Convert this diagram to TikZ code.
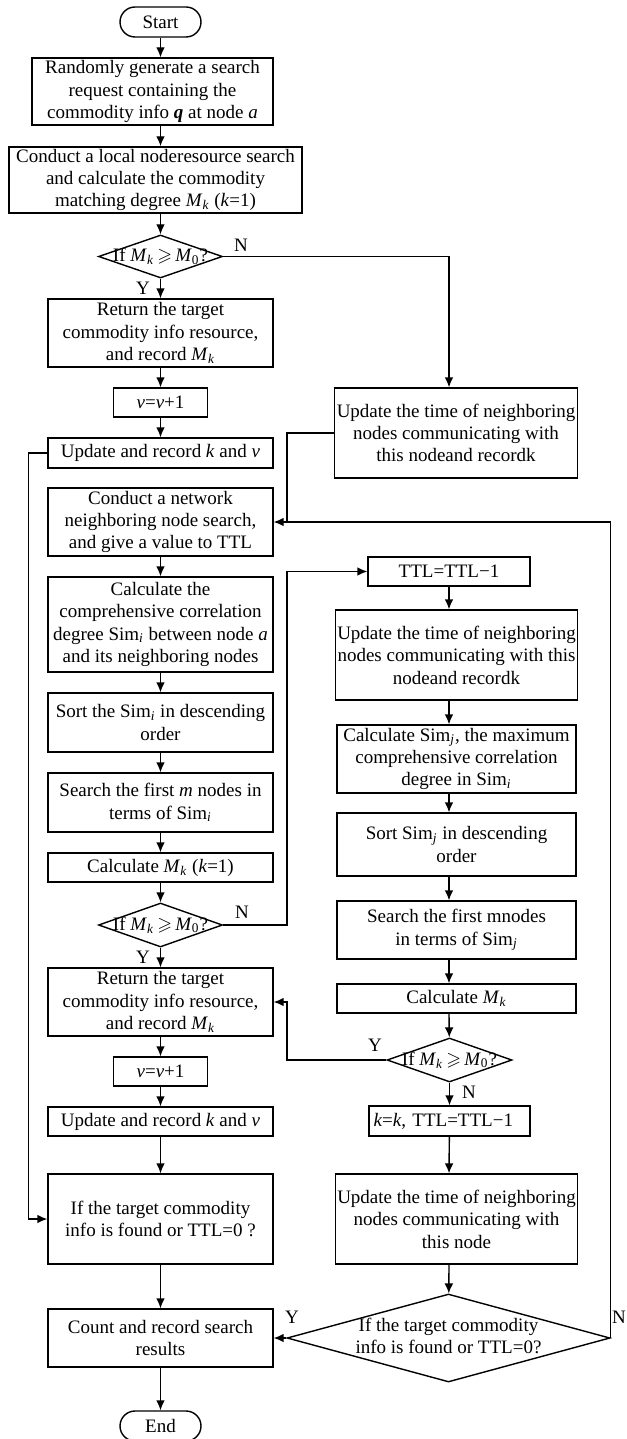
\documentclass[tikz,border=0pt]{standalone}
\usepackage{amssymb}
\usepackage{fontspec}
\setmainfont{Liberation Serif}
\usetikzlibrary{shapes.geometric,arrows.meta}

\newcommand{\Mk}{\textit{M}\textsubscript{\textit{k}}}
\newcommand{\Mz}{\textit{M}\textsubscript{0}}
\newcommand{\Simi}{Sim\textsubscript{\textit{i}}}
\newcommand{\Simj}{Sim\textsubscript{\textit{j}}}
\newcommand{\ifmk}{If \Mk\,$\geqslant$\,\Mz?}

\begin{document}
\begin{tikzpicture}[x=0.5pt, y=-0.5pt, line width=0.7pt, >={Latex[length=5pt,width=4.4pt]},
    font=\fontsize{9.5}{11.2}\selectfont,
    blk/.style={draw, align=center, inner sep=1pt, minimum height=#1},
    lft/.style={blk=#1, minimum width=112.5pt},
    rgt/.style={blk=#1, minimum width=119.5pt},
    trm/.style={draw, rounded corners=7.5pt, minimum width=40.5pt, minimum height=15pt, inner sep=1pt},
    dec/.style={draw, diamond, inner sep=0pt},
    yn/.style={inner sep=0pt}]
  \useasboundingbox (0,0) rectangle (626,1439);
  \coordinate (rc) at (449,0);
  \coordinate (mx) at (287,0);

  % main column
  \node[trm] (st) at (160.5,22) {Start};
  \node[blk=33.5pt, minimum width=120.5pt] (gen) at (152.5,91.5) {Randomly generate a search\\request containing the\\commodity info \textbf{\textit{q}} at node \textit{a}};
  \node[blk=33pt, minimum width=146.5pt] (loc) at (155.5,180) {Conduct a local noderesource search\\and calculate the commodity\\matching degree \Mk{} (\textit{k}=1)};
  \node[dec, minimum width=62pt, minimum height=21.5pt] (d1) at (160.5,256.5) {\makebox[0pt]{\ifmk}};
  \node[lft=34pt] (r1) at (160.5,333) {Return the target\\commodity info resource,\\and record \Mk};
  \node[blk=14.5pt, minimum width=47pt] (v1) at (160.5,402.5) {\textit{v}=\textit{v}+1};
  \node[lft=15pt] (u1) at (160.5,453) {Update and record \textit{k} and \textit{v}};
  \node[lft=34pt] (net) at (160.5,522) {Conduct a network\\neighboring node search,\\and give a value to TTL};
  \node[lft=47.5pt] (cmp) at (160.5,624.5) {Calculate the\\comprehensive correlation\\degree \Simi{} between node \textit{a}\\and its neighboring nodes};
  \node[lft=29.5pt] (srt) at (160.5,722.5) {Sort the \Simi{} in descending\\order};
  \node[lft=29.5pt] (fst) at (160.5,802.5) {Search the first \textit{m} nodes in\\terms of \Simi};
  \node[lft=14.5pt] (clc) at (160.5,867.5) {Calculate \Mk{} (\textit{k}=1)};
  \node[dec, minimum width=62pt, minimum height=22pt] (d2) at (160.5,925) {\makebox[0pt]{\ifmk}};
  \node[lft=34pt] (r2) at (160.5,1002) {Return the target\\commodity info resource,\\and record \Mk};
  \node[blk=14.5pt, minimum width=47pt] (v2) at (160.5,1071.5) {\textit{v}=\textit{v}+1};
  \node[lft=14.5pt] (u2) at (160.5,1121.5) {Update and record \textit{k} and \textit{v}};
  \node[lft=45pt] (fnd) at (160.5,1219) {If the target commodity\\info is found or TTL=0 ?};
  \node[lft=29pt] (cnt) at (160.5,1338) {Count and record search\\results};
  \node[trm] (en) at (160.5,1426) {End};

  % side column
  \node[blk=45pt, minimum width=120pt] (tm1) at (456,433) {Update the time of neighboring\\nodes communicating with\\this nodeand recordk};
  \node[blk=14.5pt, minimum width=81pt] (ttl) at (449,571.5) {TTL=TTL−1};
  \node[rgt=45pt] (tm2) at (456.5,655) {Update the time of neighboring\\nodes communicating with this\\nodeand recordk};
  \node[rgt=34pt] (sij) at (456.5,759) {Calculate \Simj, the maximum\\comprehensive correlation\\degree in \Simi};
  \node[rgt=31.5pt] (srj) at (456.5,844.5) {Sort \Simj{} in descending\\order};
  \node[rgt=29pt] (fsj) at (456.5,930) {Search the first mnodes\\in terms of \Simj};
  \node[rgt=14.5pt] (cmk) at (456.5,998.5) {Calculate \Mk};
  \node[dec, minimum width=62.5pt, minimum height=22pt] (d3) at (449.5,1060) {\makebox[0pt]{\ifmk}};
  \node[blk=15pt, minimum width=80.5pt, align=left, text width=76pt] (kk) at (449.5,1121) {\textit{k}=\textit{k}, TTL=TTL−1};
  \node[rgt=45pt] (tm3) at (456.5,1219) {Update the time of neighboring\\nodes communicating with\\this node};
  \node[dec, minimum width=161.5pt, minimum height=44pt] (d4) at (448.5,1338) {\makebox[0pt]{\begin{tabular}{@{}c@{}}If the target commodity\\info is found or TTL=0?\end{tabular}}};

  % Y / N labels
  \node[yn] at (241,245) {N};
  \node[yn] at (143,288) {Y};
  \node[yn] at (242,912) {N};
  \node[yn] at (143,957) {Y};
  \node[yn] at (375,1045) {Y};
  \node[yn] at (469,1092) {N};
  \node[yn] at (292,1317) {Y};
  \node[yn] at (619,1317) {N};

  % main flow
  \draw[->] (st) -- (st |- gen.north);
  \draw[->] (st |- gen.south) -- (st |- loc.north);
  \draw[->] (st |- loc.south) -- (d1);
  \draw[->] (d1) -- (r1);
  \draw[->] (r1) -- (v1);
  \draw[->] (v1) -- (u1);
  \draw[->] (net) -- (cmp);
  \draw[->] (cmp) -- (srt);
  \draw[->] (srt) -- (fst);
  \draw[->] (fst) -- (clc);
  \draw[->] (clc) -- (d2);
  \draw[->] (d2) -- (r2);
  \draw[->] (r2) -- (v2);
  \draw[->] (v2) -- (u2);
  \draw[->] (u2) -- (fnd);
  \draw[->] (fnd) -- (cnt);
  \draw[->] (cnt) -- (en);

  % side flow
  \draw[->] (ttl) -- (rc |- tm2.north);
  \draw[->] (rc |- tm2.south) -- (rc |- sij.north);
  \draw[->] (rc |- sij.south) -- (rc |- srj.north);
  \draw[->] (rc |- srj.south) -- (rc |- fsj.north);
  \draw[->] (rc |- fsj.south) -- (rc |- cmk.north);
  \draw[->] (rc |- cmk.south) -- (d3);
  \draw[->] (d3) -- (kk);
  \draw[->] (kk) -- (rc |- tm3.north);
  \draw[->] (rc |- tm3.south) -- (d4);

  % branches and loops
  \draw[->] (d1.east) -| (rc |- tm1.north);
  \draw (tm1.west) -| (mx |- net.east);
  \draw[->] (d4.east) |- (net.east);
  \draw[->] (u1.west) -- ++(-19,0) |- (fnd.west);
  \draw[->] (d2.east) -| (mx |- ttl.west) -- (ttl.west);
  \draw[->] (d3.west) -| (mx |- r2.east) -- (r2.east);
  \draw[->] (d4.west) -- (cnt.east);
\end{tikzpicture}
\end{document}
